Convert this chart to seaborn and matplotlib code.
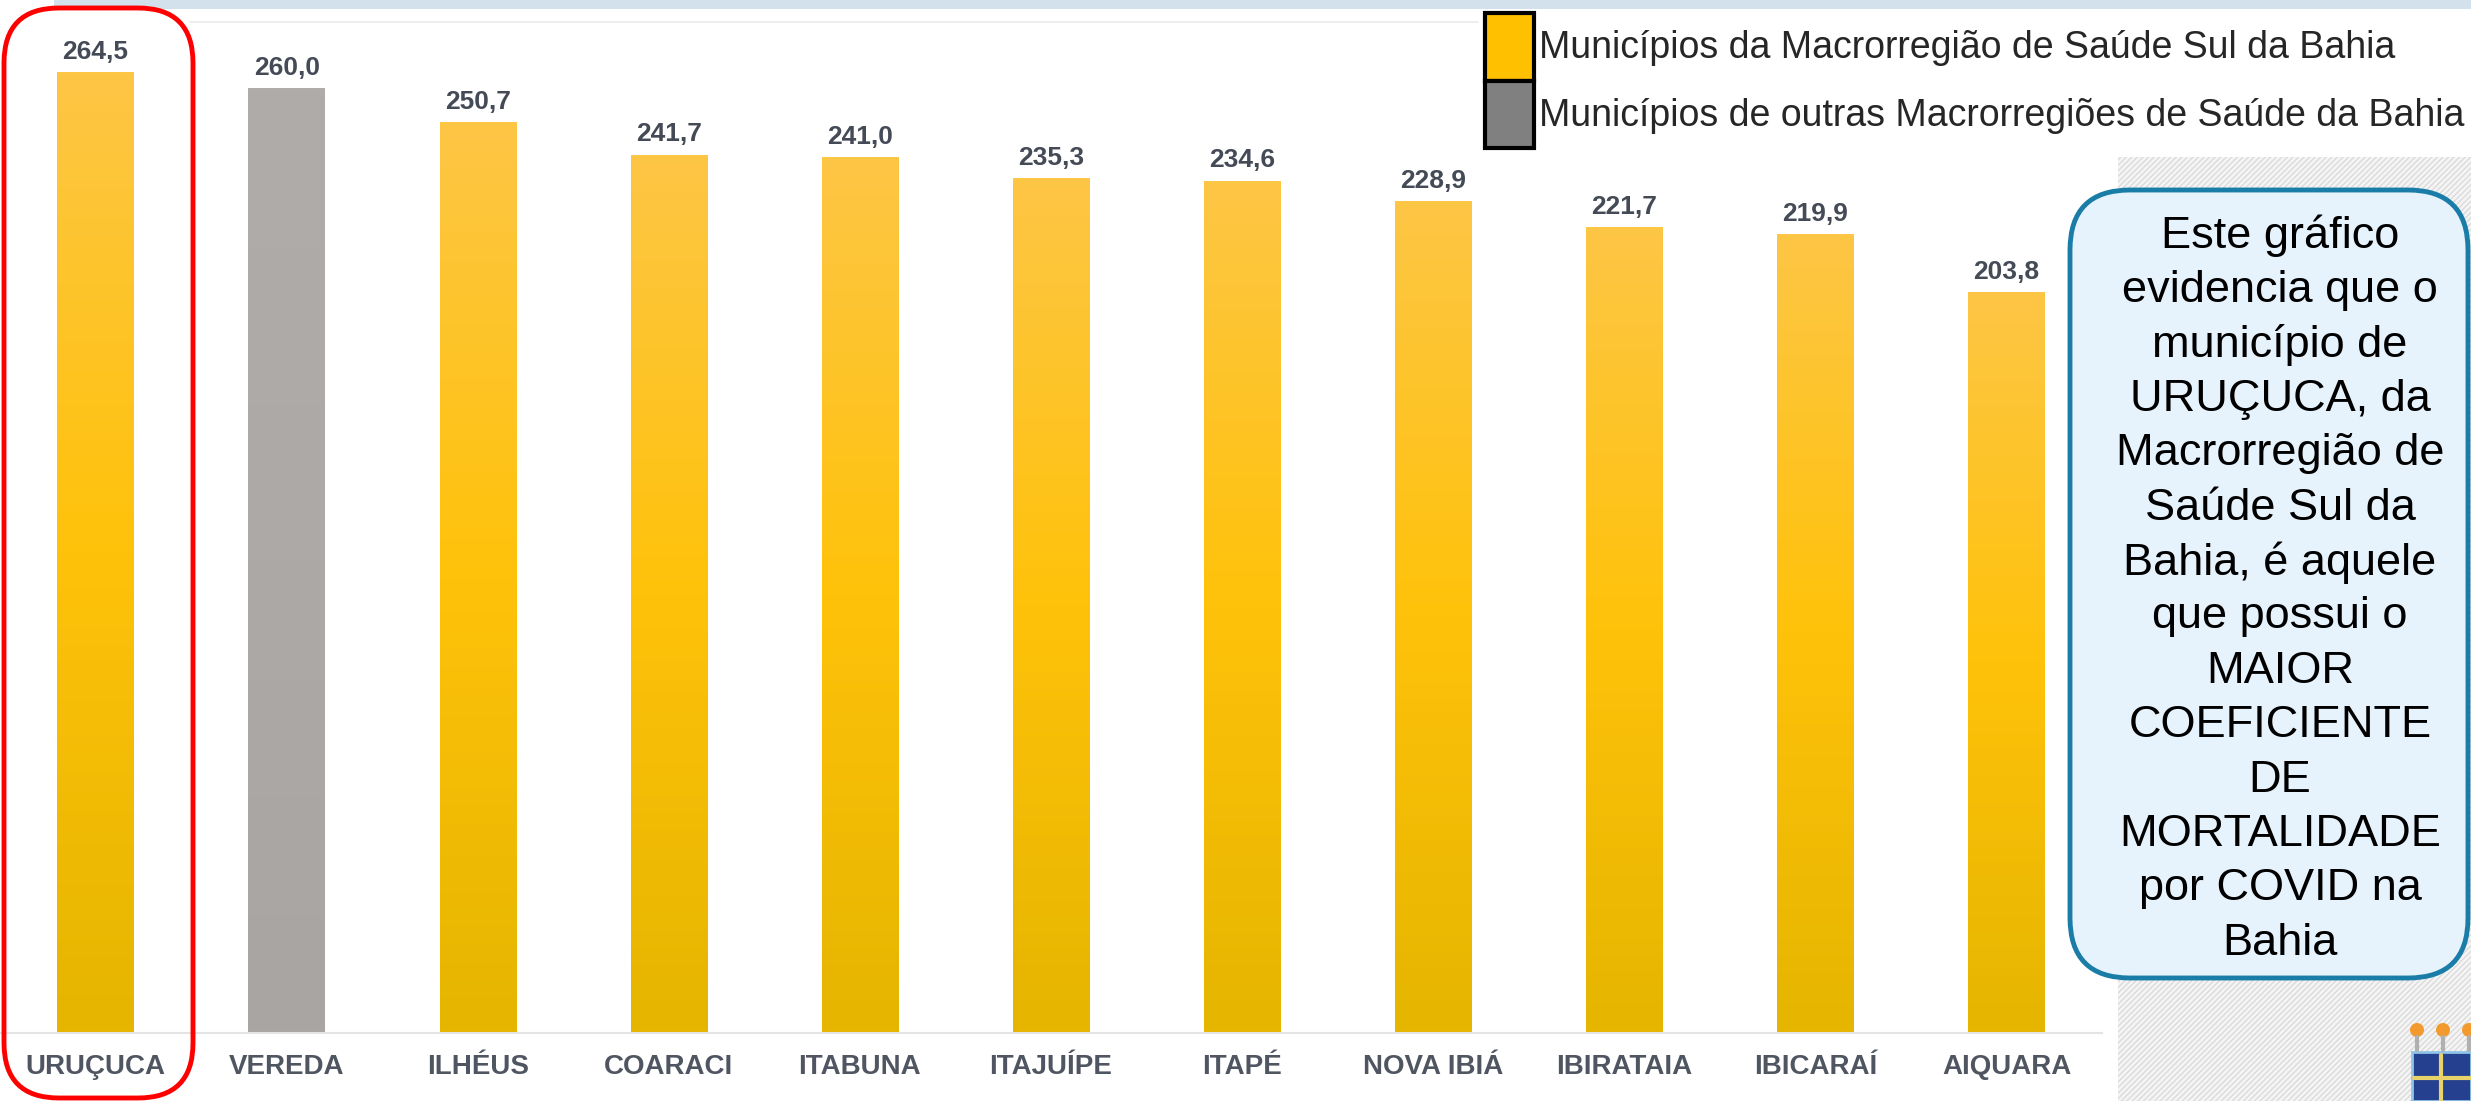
import matplotlib.pyplot as plt
import matplotlib.font_manager as fm
import numpy as np
import pandas as pd
import seaborn as sns
from matplotlib.colors import LinearSegmentedColormap, to_rgb
from matplotlib.patches import FancyBboxPatch, Rectangle, Patch, Circle

# Coeficiente de mortalidade por COVID (por 100 mil hab.)
municipios = ["URUÇUCA", "VEREDA", "ILHÉUS", "COARACI", "ITABUNA", "ITAJUÍPE",
              "ITAPÉ", "NOVA IBIÁ", "IBIRATAIA", "IBICARAÍ", "AIQUARA"]
coeficientes = [264.5, 260.0, 250.7, 241.7, 241.0, 235.3, 234.6, 228.9, 221.7, 219.9, 203.8]
grupos = ["Sul", "Outras", "Sul", "Sul", "Sul", "Sul", "Sul", "Sul", "Sul", "Sul", "Sul"]

legenda = ["Municípios da Macrorregião de Saúde Sul da Bahia",
           "Municípios de outras Macrorregiões de Saúde da Bahia"]

texto_box = ["Este gráfico", "evidencia que o", "município de", "URUÇUCA, da",
             "Macrorregião de", "Saúde Sul da", "Bahia, é aquele", "que possui o",
             "MAIOR", "COEFICIENTE", "DE", "MORTALIDADE", "por COVID na", "Bahia"]

df = pd.DataFrame({"municipio": municipios, "coeficiente": coeficientes, "grupo": grupos})

sns.set_theme(style="white")
plt.rcParams["font.family"] = ["Liberation Sans", "DejaVu Sans"]
plt.rcParams["hatch.linewidth"] = 0.8

names = {f.name for f in fm.fontManager.ttflist}
narrow = "Liberation Sans Narrow" in names
tick_family = ["Liberation Sans Narrow", "Liberation Sans"] if narrow else ["Liberation Sans"]
tick_size = 23 if narrow else 20

W, H = 2471, 1101
fig = plt.figure(figsize=(W / 100, H / 100), dpi=100)
fig.patch.set_facecolor("white")

# Background decorations in pixel coordinates.
bg = fig.add_axes([0, 0, 1, 1], zorder=0)
bg.set_xlim(0, W)
bg.set_ylim(H, 0)
bg.axis("off")
bg.add_patch(Rectangle((54, 0), W - 54, 9, fc="#D2E1EB", lw=0))
bg.plot([190, 1478], [22, 22], color="#EBEBEB", lw=1.2)
bg.add_patch(Rectangle((2118, 12), W - 2118, H - 12, fc="#F4F4F4", ec="#D6D6D6",
                       hatch="//////", lw=0))
# Shadow under the legend box.
shade = np.zeros((40, 2, 4))
shade[..., :3] = 0.55
shade[..., 3] = np.linspace(0.45, 0, 40)[:, None]
bg.imshow(shade, extent=(2118, W, 195, 155), aspect="auto", interpolation="bilinear")
bg.add_patch(Rectangle((1478, 12), W - 1478, 145, fc="white", lw=0))
bg.set_xlim(0, W)
bg.set_ylim(H, 0)

# Main bar chart.
ax = fig.add_axes([0, 68 / H, 2102 / W, 1033 / H], zorder=1)
ax.patch.set_alpha(0)
palette = {"Sul": "#FFC20A", "Outras": "#ABA7A4"}
sns.barplot(data=df, x="municipio", y="coeficiente", hue="grupo", order=municipios,
            palette=palette, dodge=False, width=0.4, saturation=1, legend=False, ax=ax)

grad_sul = LinearSegmentedColormap.from_list("sul", ["#E5B500", "#FFC20A", "#FDC645"])
grad_out = LinearSegmentedColormap.from_list("out", ["#A9A5A2", "#ADA9A6", "#B0ACA9"])
ramp = np.linspace(0, 1, 256).reshape(-1, 1)
for p in list(ax.patches):
    h = p.get_height()
    if not np.isfinite(h) or h == 0:
        continue
    fc = p.get_facecolor()[:3]
    cmap = grad_sul if np.allclose(fc, to_rgb("#FFC20A"), atol=0.02) else grad_out
    im = ax.imshow(ramp, cmap=cmap, origin="lower", aspect="auto",
                   extent=(p.get_x(), p.get_x() + p.get_width(), 0, h), zorder=2)
    im.set_clip_path(p)

for cont in ax.containers:
    labels = [f"{v:.1f}".replace(".", ",") if np.isfinite(v) else "" for v in cont.datavalues]
    ax.bar_label(cont, labels=labels, padding=6, fontsize=19, fontweight="bold",
                 color="#444A56")

ax.set_xlim(-0.5, 10.5)
ax.set_ylim(0, 284.3)
ax.set_xlabel("")
ax.set_ylabel("")
ax.set_yticks([])
ax.tick_params(axis="x", length=0, pad=15)
for lbl in ax.get_xticklabels():
    lbl.set_fontfamily(tick_family)
    lbl.set_fontsize(tick_size)
    lbl.set_fontweight("bold")
    lbl.set_color("#505661")
sns.despine(ax=ax, left=True, top=True, right=True, bottom=False)
ax.spines["bottom"].set_color("#E4E4E4")
ax.spines["bottom"].set_linewidth(1.5)

# Overlay: highlight, text box, logo.
ov = fig.add_axes([0, 0, 1, 1], zorder=3)
ov.patch.set_alpha(0)
ov.set_xlim(0, W)
ov.set_ylim(H, 0)
ov.axis("off")
ov.add_patch(FancyBboxPatch((4, 8), 189, 1090, boxstyle="round,pad=0,rounding_size=55",
                            fill=False, ec="#FF0000", lw=3.5))
ov.add_patch(FancyBboxPatch((2070, 190), 398, 788, boxstyle="round,pad=0,rounding_size=60",
                            fc="#E6F2FC", ec="#1A7DA8", lw=3.5))
for i, linha in enumerate(texto_box):
    ov.text(2280, 236 + i * 54.4, linha, ha="center", va="center", fontsize=32.5, color="black")

ov.add_patch(Rectangle((2412, 1052), 59, 49, fc="#24408F", ec="#8FC3E8", lw=2))
ov.plot([2441, 2441], [1055, 1101], color="#E8D36A", lw=3)
ov.plot([2414, 2471], [1078, 1078], color="#E8D36A", lw=3)
for cx in (2417, 2443, 2469):
    ov.add_patch(Circle((cx, 1030), 7, fc="#F39A2E", lw=0))
    ov.plot([cx, cx], [1037, 1050], color="#B0B0B0", lw=3)

handles = [Patch(fc="#FFC000", ec="black", lw=3), Patch(fc="#808080", ec="black", lw=3)]
fig.legend(handles, legenda, loc="upper left", bbox_to_anchor=(1485 / W, 1 - 13 / H),
           frameon=False, borderpad=0, borderaxespad=0, handlelength=1.3,
           handleheight=2.4, labelspacing=0, handletextpad=0.15, fontsize=27)

fig.savefig("out.png", dpi=100)
